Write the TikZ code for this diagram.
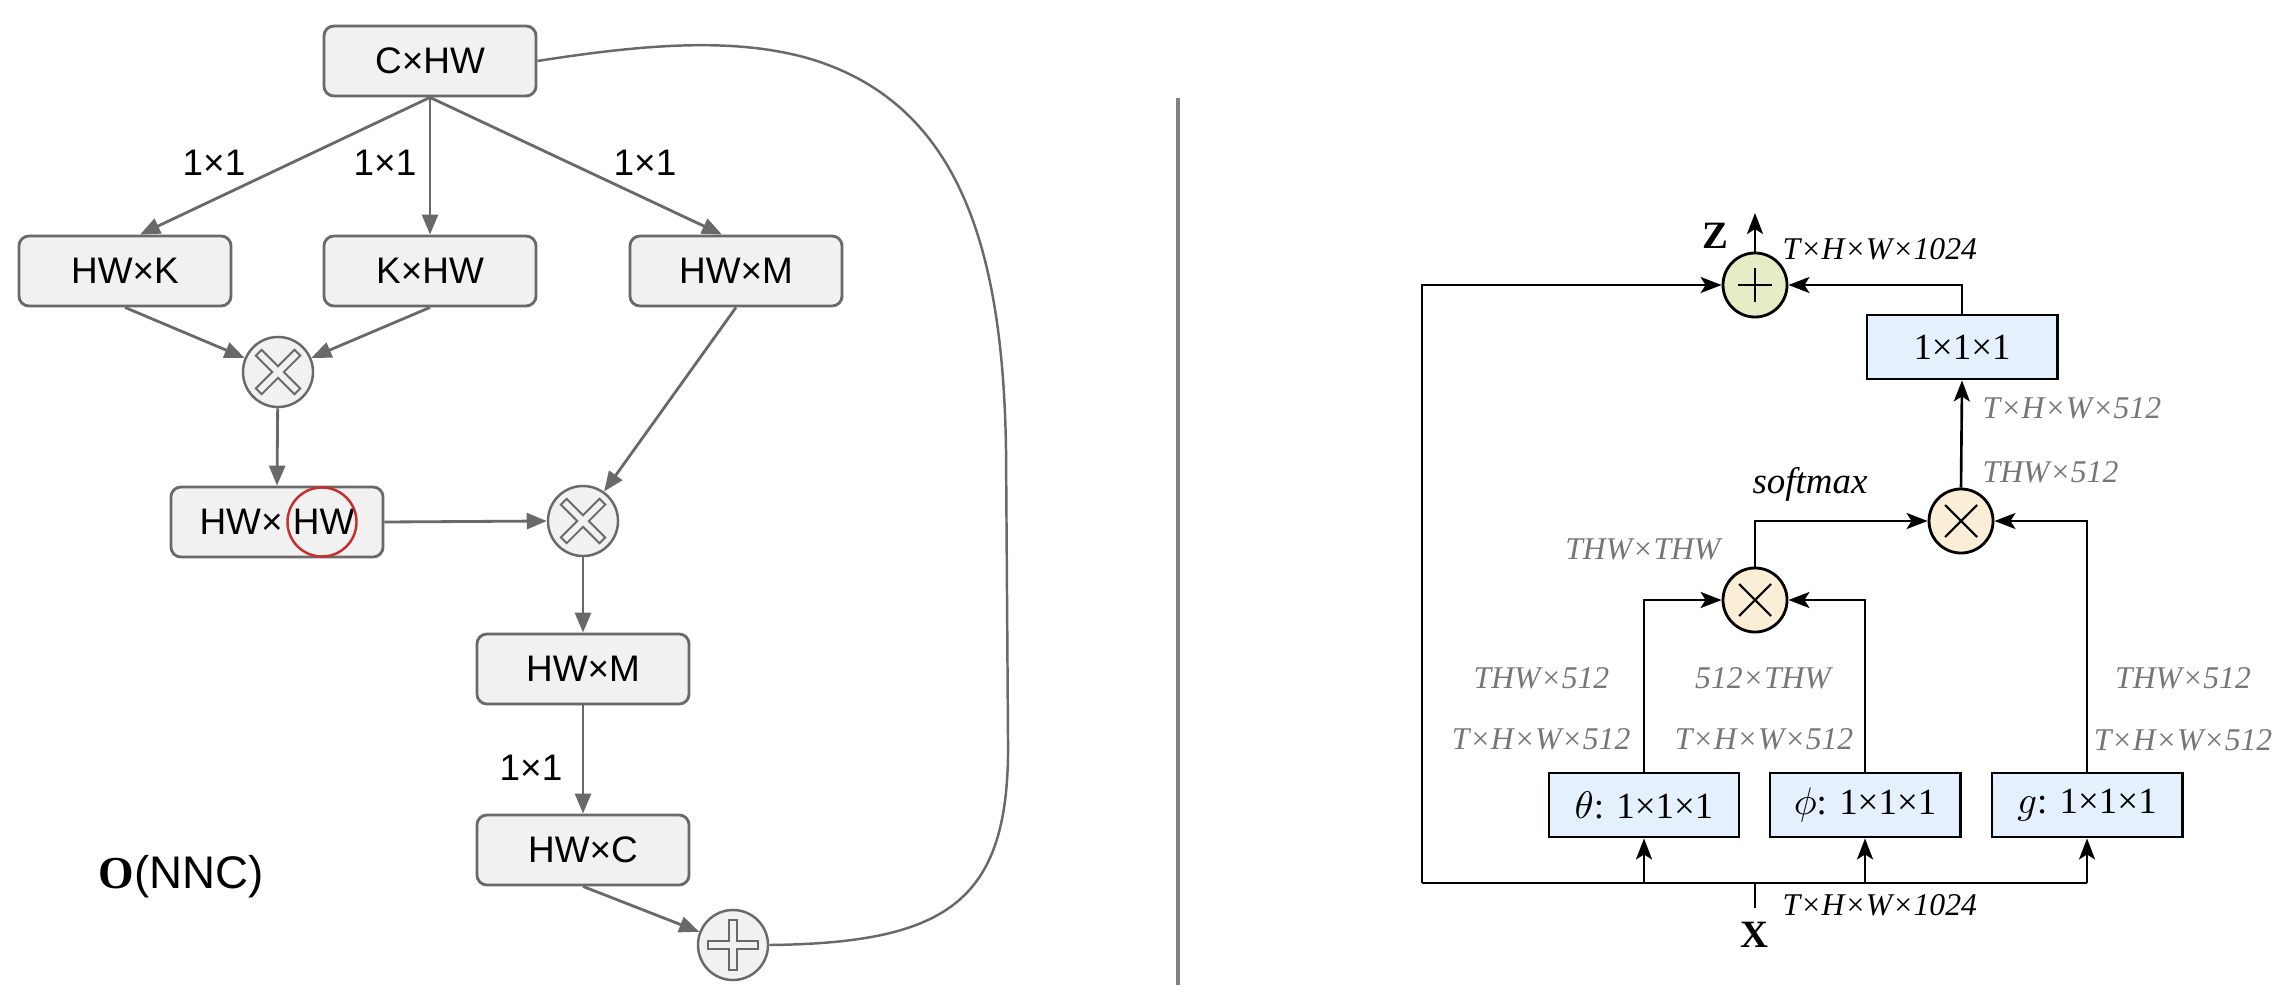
\documentclass[tikz,border=0pt]{standalone}
\usepackage{fontspec}
\setmainfont{Liberation Serif}
\newfontfamily\arial{Liberation Sans}
\usetikzlibrary{arrows.meta}

\definecolor{lgray}{RGB}{105,105,105}
\definecolor{lfill}{RGB}{241,241,241}
\definecolor{lblgray}{RGB}{118,118,118}
\definecolor{bluefill}{RGB}{228,241,252}
\definecolor{beige}{RGB}{250,238,214}
\definecolor{greenfill}{RGB}{228,237,198}
\definecolor{redring}{RGB}{200,45,45}

\begin{document}
\begin{tikzpicture}[x=0.01cm, y=-0.01cm,
  lbox/.style={draw=lgray, fill=lfill, line width=0.8pt, rounded corners=0.1cm,
    minimum width=2.12cm, minimum height=0.7cm, inner sep=0pt, font=\arial\fontsize{10.5}{12}\selectfont},
  lop/.style={circle, draw=lgray, fill=lfill, line width=0.7pt, minimum size=0.7cm, inner sep=0pt},
  larr/.style={draw=lgray, line width=0.8pt, -{Triangle[length=0.2cm,width=0.16cm]}},
  llbl/.style={font=\arial\fontsize{10.5}{12}\selectfont},
  rbox/.style={draw, fill=bluefill, line width=0.8pt, minimum width=1.9cm, minimum height=0.64cm,
    inner sep=0pt, font=\fontsize{10.5}{12}\selectfont},
  rop/.style={circle, draw, line width=0.8pt, minimum size=0.64cm, inner sep=0pt},
  rarr/.style={line width=0.75pt, -{Stealth[length=0.21cm,width=0.16cm,inset=0.05cm]}},
  dim/.style={font=\itshape\fontsize{9}{11}\selectfont, text=lblgray, inner sep=0pt},
  dimk/.style={font=\itshape\fontsize{9}{11}\selectfont, inner sep=0pt}
]
\useasboundingbox (0,0) rectangle (2292,994);

\node[lbox] (chw) at (430,61) {C×HW};
\node[lbox] (hwk) at (125,271) {HW×K};
\node[lbox] (khw) at (430,271) {K×HW};
\node[lbox] (hwm) at (736,271) {HW×M};
\node[lop] (m1) at (278,372) {};
\node[lbox] (hwhw) at (277,522) {HW× HW};
\node[circle, draw=redring, line width=0.7pt, minimum size=0.69cm, inner sep=0pt] (ring) at (322,522) {};
\node[lop] (m2) at (583,521) {};
\node[lbox] (hwm2) at (583,669) {HW×M};
\node[lbox] (hwc) at (583,850) {HW×C};
\node[lop] (add1) at (733,945) {};
\node[font=\arial\fontsize{13}{15}\selectfont] (cost) at (181,877) {{\rmfamily\bfseries O}(NNC)};

\foreach \m in {m1,m2} {
  \draw[lgray, line width=0.1cm] ([shift={(-20,-20)}]\m.center) -- ([shift={(20,20)}]\m.center)
    ([shift={(-20,20)}]\m.center) -- ([shift={(20,-20)}]\m.center);
  \draw[lfill, line width=0.06cm] ([shift={(-18.5,-18.5)}]\m.center) -- ([shift={(18.5,18.5)}]\m.center)
    ([shift={(-18.5,18.5)}]\m.center) -- ([shift={(18.5,-18.5)}]\m.center);
}
\draw[lgray, line width=0.1cm] ([xshift=-0.26cm]add1.center) -- ([xshift=0.26cm]add1.center)
  ([yshift=-0.26cm]add1.center) -- ([yshift=0.26cm]add1.center);
\draw[lfill, line width=0.06cm] ([xshift=-0.24cm]add1.center) -- ([xshift=0.24cm]add1.center)
  ([yshift=-0.24cm]add1.center) -- ([yshift=0.24cm]add1.center);

\draw[larr] (chw.south) -- ([xshift=0.15cm]hwk.north);
\draw[larr] (chw.south) -- (khw.north);
\draw[larr] (chw.south) -- ([xshift=-0.14cm]hwm.north);
\node[llbl] (k1) at (214,163) {1×1};
\node[llbl] (k2) at (385,163) {1×1};
\node[llbl] (k3) at (645,163) {1×1};
\draw[larr] (hwk.south) -- (m1);
\draw[larr] (khw.south) -- (m1);
\draw[larr] (m1) -- (hwhw.north);
\draw[larr] (hwm.south) -- (m2);
\draw[larr] (hwhw.east) -- (m2.west);
\draw[larr] (m2) -- (hwm2.north);
\draw[larr] (hwm2.south) -- (hwc.north);
\node[llbl] (k4) at (531,768) {1×1};
\draw[larr] (hwc.south) -- (add1);
\draw[lgray, line width=0.7pt] (chw.east) .. controls (640,45) and (740,35) .. (820,62)
  .. controls (960,110) and (1003,250) .. (1006,450) -- (1008,740)
  .. controls (1010,900) and (950,943) .. (add1.east);

\draw[gray, line width=0.9pt] (1178,98) -- (1178,985);

\node[rop, fill=greenfill] (zsum) at (1755,285) {};
\draw[line width=0.6pt] ([xshift=-0.17cm]zsum.center) -- ([xshift=0.17cm]zsum.center)
  ([yshift=-0.17cm]zsum.center) -- ([yshift=0.17cm]zsum.center);
\node[rbox] (proj) at (1962,347) {1×1×1};
\node[rop, fill=beige] (mulg) at (1961,521) {};
\node[rop, fill=beige] (mulf) at (1755,600) {};
\foreach \m in {mulg,mulf}
  \draw[line width=0.6pt] ([shift={(-16,-16)}]\m.center) -- ([shift={(16,16)}]\m.center)
    ([shift={(-16,16)}]\m.center) -- ([shift={(16,-16)}]\m.center);
\node[rbox] (theta) at (1644,805) {$\theta$: 1×1×1};
\node[rbox] (phi) at (1865,805) {$\phi$: 1×1×1};
\node[rbox] (gfun) at (2087,805) {$g$: 1×1×1};

\coordinate (xin) at (1755,908);
\coordinate (xs) at (1755,883);
\coordinate (lc) at (1422,883);
\coordinate (zout) at (1755,213);

\draw[line width=0.75pt] (xin) -- (xs);
\draw[line width=0.75pt] (lc) -- (gfun.south |- lc);
\draw[rarr] (lc) |- (zsum.west);
\draw[rarr] (theta.south |- lc) -- (theta.south);
\draw[rarr] (phi.south |- lc) -- (phi.south);
\draw[rarr] (gfun.south |- lc) -- (gfun.south);
\draw[rarr] (theta.north) |- (mulf.west);
\draw[rarr] (phi.north) |- (mulf.east);
\draw[rarr] (mulf.north) |- (mulg.west);
\draw[rarr] (gfun.north) |- (mulg.east);
\draw[rarr] (mulg.north) -- (proj.south);
\draw[rarr] (proj.north) |- (zsum.east);
\draw[rarr] (zsum.north) -- (zout);

\node[font=\bfseries\fontsize{11}{12}\selectfont] (zlbl) at (1715,236) {Z};
\node[dimk, anchor=west] (dz) at (1782,249) {T×H×W×1024};
\node[dim, anchor=west] (d1) at (1982,408) {T×H×W×512};
\node[dim, anchor=west] (d2) at (1982,472) {THW×512};
\node[font=\itshape\fontsize{10.5}{12}\selectfont] (sm) at (1810,484) {softmax};
\node[dim, anchor=east] (d3) at (1721,549) {THW×THW};
\node[dim, anchor=east] (d4) at (1610,678) {THW×512};
\node[dim, anchor=east] (d5) at (1631,739) {T×H×W×512};
\node[dim] (d6) at (1763,678) {512×THW};
\node[dim] (d7) at (1764,739) {T×H×W×512};
\node[dim] (d8) at (2183,678) {THW×512};
\node[dim] (d9) at (2183,740) {T×H×W×512};
\node[dimk, anchor=west] (dx) at (1782,905) {T×H×W×1024};
\node[font=\bfseries\fontsize{11}{12}\selectfont] (xlbl) at (1754,935) {X};

\end{tikzpicture}
\end{document}
